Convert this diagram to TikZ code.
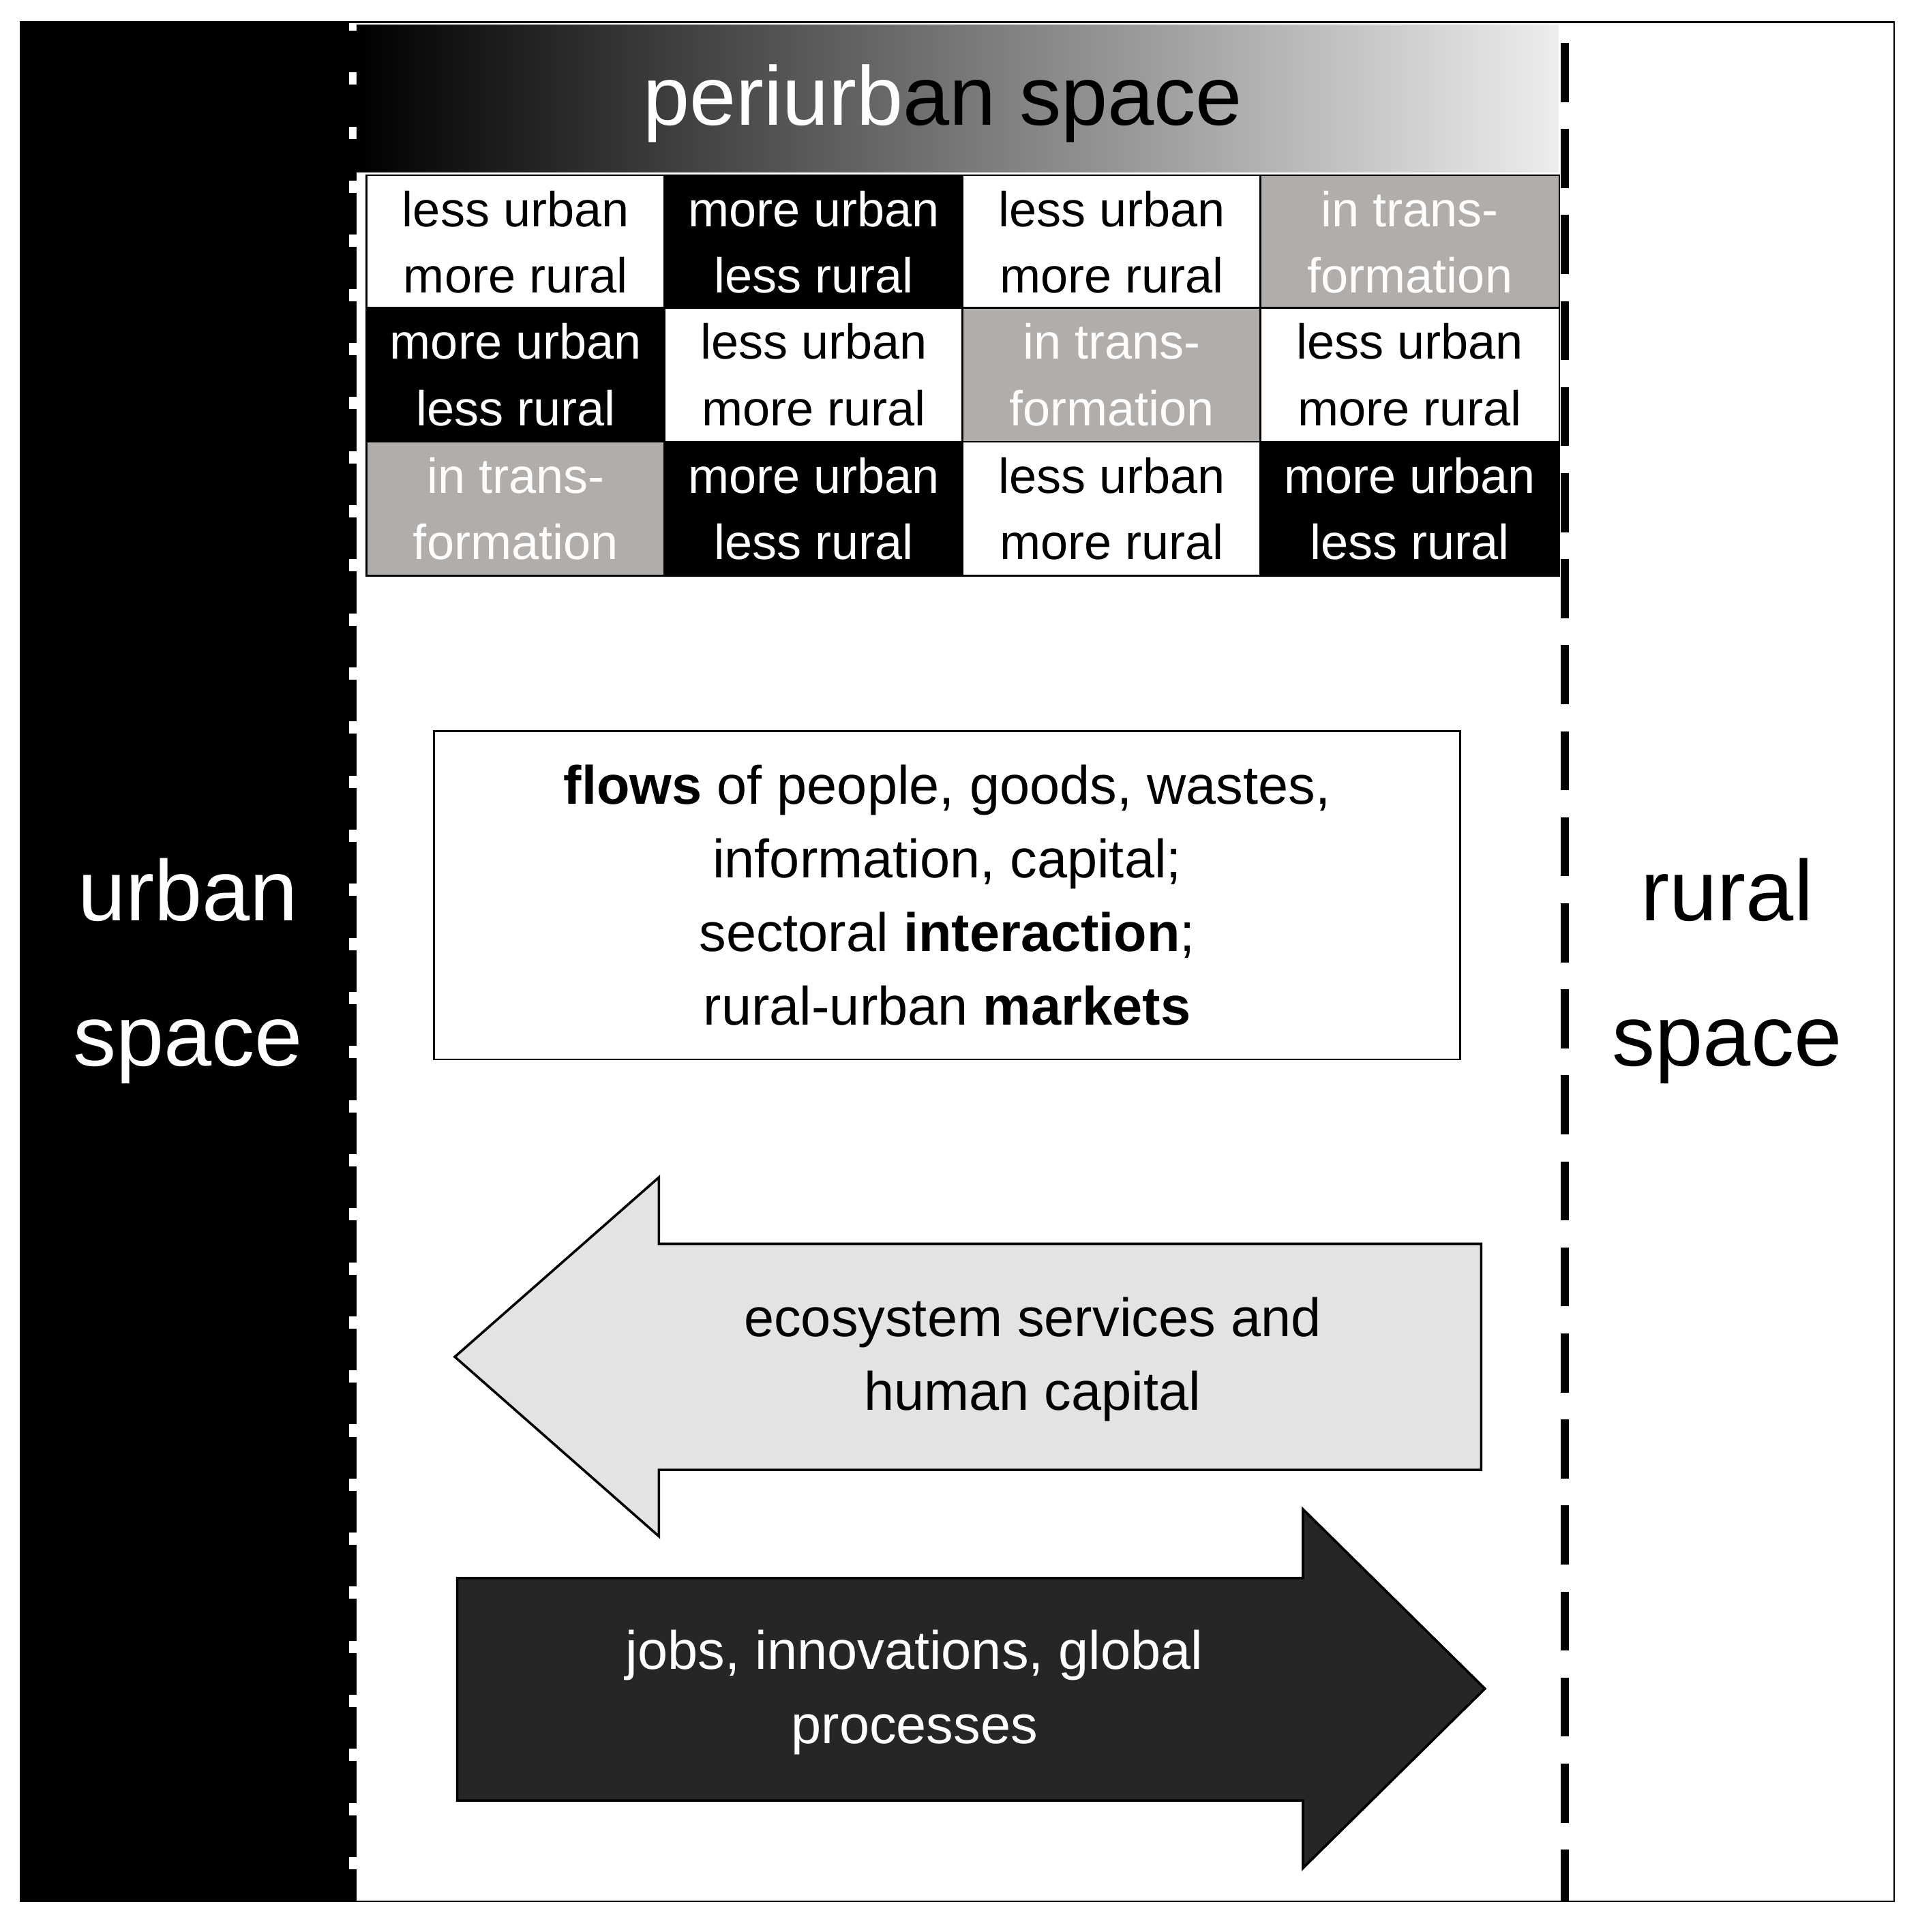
\documentclass[tikz,border=0pt]{standalone}
\usepackage{fontspec}
\setmainfont{Liberation Sans}
\usetikzlibrary{shadings}
\definecolor{cg}{HTML}{B0ADAB}
\begin{document}
\begin{tikzpicture}[x=1pt,y=-1pt,
  cell/.style={draw=black,line width=1.5pt,minimum width=243pt,minimum height=109pt,inner sep=0pt,align=center,font=\fontsize{40}{54}\selectfont},
  W/.style={cell,fill=white,text=black},
  B/.style={cell,fill=black,text=white},
  G/.style={cell,fill=cg,text=white},
  big/.style={font=\fontsize{70}{118}\selectfont,align=center}]
\useasboundingbox (0,0) rectangle (1560,1572);
\fill[white] (0,0) rectangle (1560,1572);
\draw[line width=1.5pt] (17,18) rectangle (1541,1547);
\fill[black] (17,18) rectangle (284,1547);
\shade[left color=black,right color=white!93!black] (290,20) rectangle (1268,140);
\node (peri) at (767,84) {\fontsize{68}{80}\selectfont\textcolor{white}{periurb}an space};
% grid
\foreach \t/\s [count=\i from 0] in {W/{less urban\\more rural},B/{more urban\\less rural},W/{less urban\\more rural},G/{in trans-\\formation}}
  \node[\t] (r1c\i) at (419.5+\i*242.5,197) {\s};
\foreach \t/\s [count=\i from 0] in {B/{more urban\\less rural},W/{less urban\\more rural},G/{in trans-\\formation},W/{less urban\\more rural}}
  \node[\t] (r2c\i) at (419.5+\i*242.5,305) {\s};
\foreach \t/\s [count=\i from 0] in {G/{in trans-\\formation},B/{more urban\\less rural},W/{less urban\\more rural},B/{more urban\\less rural}}
  \node[\t] (r3c\i) at (419.5+\i*242.5,414) {\s};
% dashed borders
\draw[line width=6pt,dash pattern=on 34pt off 10pt] (287,25) -- (287,1547);
\draw[line width=7pt,dash pattern=on 48pt off 22pt] (1273,35) -- (1273,1547);
\node[big,text=white] (urban) at (153,790) {urban\\space};
\node[big,text=black] (rural) at (1405,790) {rural\\space};
% flows box
\node[draw,line width=1.5pt,minimum width=835pt,minimum height=267pt,align=center,font=\fontsize{44}{60}\selectfont] (flows) at (770.5,728.5)
 {\textbf{flows} of people, goods, wastes,\\information, capital;\\sectoral \textbf{interaction};\\rural-urban \textbf{markets}};
% arrows
\draw[line width=2pt,fill=black!11] (370,1104) -- (536,958) -- (536,1012) -- (1205,1012) -- (1205,1196) -- (536,1196) -- (536,1250) -- cycle;
\node[align=center,font=\fontsize{44}{60}\selectfont] (eco) at (840,1106) {ecosystem services and\\human capital};
\draw[line width=2pt,fill=black!85] (372,1284) -- (1060,1284) -- (1060,1228) -- (1208,1374) -- (1060,1520) -- (1060,1465) -- (372,1465) -- cycle;
\node[align=center,text=white,font=\fontsize{44}{60}\selectfont] (jobs) at (744,1377) {jobs, innovations, global\\processes};
\end{tikzpicture}
\end{document}
